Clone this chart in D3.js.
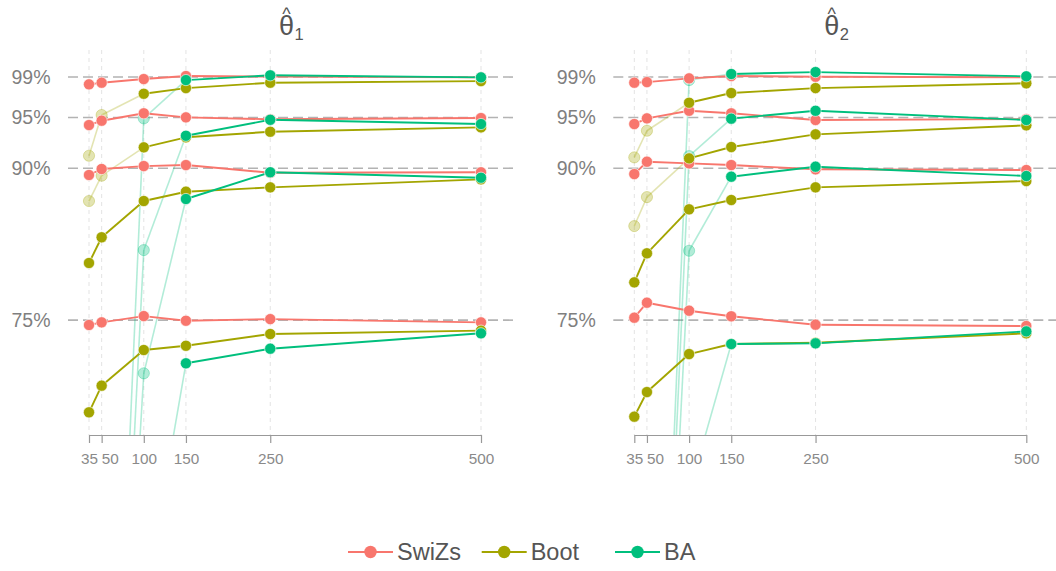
<!DOCTYPE html>
<html>
<head>
<meta charset="utf-8">
<script src="https://cdn.jsdelivr.net/npm/d3@7"></script>
<style>
  html, body { margin: 0; padding: 0; background: #fff; }
  svg { display: block; font-family: "Liberation Sans", Arial, sans-serif; }
</style>
</head>
<body>
<svg id="chart" width="1056" height="571"></svg>
<script>
// ---------------- DATA ----------------
const sampleSizes = [35, 50, 100, 150, 250, 500];
const sampleLabels = ["35", "50", "100", "150", "250", "500"];
const levels = [75, 90, 95, 99];
const levelLabels = ["75%", "90%", "95%", "99%"];
const methods = ["SwiZs", "Boot", "BA"];
const panelSubscripts = ["1", "2"];

// coverage (%) rows ordered as levels 75, 90, 95, 99; columns = sampleSizes
const theta1SwiZs = [
  [74.52, 74.78, 75.40, 74.94, 75.10, 74.78],
  [89.33, 89.92, 90.21, 90.31, 89.55, 89.60],
  [94.26, 94.69, 95.42, 95.02, 94.83, 94.95],
  [98.28, 98.44, 98.80, 99.10, 99.05, 98.97]
];
const theta1Boot = [
  [65.90, 68.53, 72.05, 72.47, 73.63, 73.96],
  [80.64, 83.18, 86.76, 87.68, 88.11, 88.90],
  [86.76, 89.26, 92.06, 93.05, 93.60, 94.03],
  [91.23, 95.25, 97.35, 97.91, 98.44, 98.60]
];
const theta1BA = [
  [0, 0, 46.7, 70.74, 72.18, 73.70],
  [0, 0, 69.75, 86.96, 89.60, 89.06],
  [0, 0, 81.92, 93.20, 94.78, 94.36],
  [0, 0, 94.92, 98.70, 99.17, 98.97]
];
const theta2SwiZs = [
  [75.24, 76.72, 75.93, 75.38, 74.55, 74.42],
  [89.42, 90.64, 90.48, 90.31, 89.89, 89.82],
  [94.36, 94.92, 95.67, 95.42, 94.76, 94.85],
  [98.44, 98.50, 98.87, 99.10, 99.03, 98.97]
];
const theta2Boot = [
  [65.47, 67.90, 71.65, 72.64, 72.77, 73.70],
  [78.73, 81.60, 85.94, 86.86, 88.11, 88.73],
  [84.29, 87.15, 90.97, 92.09, 93.34, 94.23],
  [91.07, 93.70, 96.46, 97.42, 97.91, 98.38]
];
const theta2BA = [
  [0, 0, 58.0, 72.64, 72.71, 73.89],
  [0, 0, 81.85, 89.16, 90.15, 89.23],
  [0, 0, 91.20, 94.89, 95.67, 94.76],
  [0, 0, 98.70, 99.30, 99.49, 99.07]
];
// number of leading (low-n) points drawn faded, per level
const swizsFaded = [0, 0, 0, 0];
const bootFaded = [0, 0, 2, 2];
const baFaded = [3, 3, 3, 3];

// ---------------- STYLE / LAYOUT ----------------
const colors = ["#F8766D", "#A3A500", "#00BF7D"];
const fadedBy = [swizsFaded, bootFaded, baFaded];
const panelData = [[theta1SwiZs, theta1Boot, theta1BA], [theta2SwiZs, theta2Boot, theta2BA]];
const panelLefts = [68, 613.3];
const panelW = 446, panelTop = 50, panelBottom = 435;
const fadeAlpha = 0.3;

const svg = d3.select("#chart");
const y = d3.scaleLinear().domain([63.66, 101.67]).range([panelBottom, panelTop]);

panelData.forEach((pd, pi) => {
  const L = panelLefts[pi];
  const x = d3.scaleLinear().domain([35, 500]).range([L + 21, L + 413]);
  const g = svg.append("g");

  const clipId = "clip" + pi;
  svg.append("clipPath").attr("id", clipId)
    .append("rect").attr("x", L).attr("y", panelTop).attr("width", panelW).attr("height", panelBottom - panelTop);

  // vertical grid
  g.selectAll(".vg").data(sampleSizes).enter().append("line")
    .attr("x1", d => x(d)).attr("x2", d => x(d))
    .attr("y1", panelTop).attr("y2", panelBottom)
    .attr("stroke", "#e3e3e3").attr("stroke-width", 1).attr("stroke-dasharray", "4,4");

  // nominal level reference lines
  g.selectAll(".hl").data(levels).enter().append("line")
    .attr("x1", L).attr("x2", L + panelW)
    .attr("y1", d => y(d)).attr("y2", d => y(d))
    .attr("stroke", "#b3b3b3").attr("stroke-width", 1.6).attr("stroke-dasharray", "10,5");

  // y labels
  g.selectAll(".yl").data(levels).enter().append("text")
    .attr("x", L - 17.5).attr("y", d => y(d)).attr("dy", "0.35em")
    .attr("text-anchor", "end").attr("font-size", 19.5).attr("fill", "#7f7f7f")
    .text((d, i) => levelLabels[i]);

  // x axis
  const axis = d3.axisBottom(x).tickValues(sampleSizes)
    .tickFormat((d, i) => sampleLabels[i]).tickSize(8).tickSizeOuter(0).tickPadding(10);
  const ax = g.append("g").attr("transform", `translate(0,${panelBottom})`).call(axis);
  ax.attr("font-size", 15.3).attr("font-family", "Liberation Sans, Arial, sans-serif");
  ax.select(".domain").attr("stroke", "#999").attr("stroke-width", 1.2);
  ax.selectAll(".tick line").attr("stroke", "#999").attr("stroke-width", 1.2);
  ax.selectAll(".tick text").attr("font-size", 15.3).attr("fill", "#8a8a8a")
    .attr("dx", d => d === 50 ? 8 : 0);

  // title
  const cx = L + panelW / 2;
  g.append("text").attr("x", cx - 4.5).attr("y", 35).attr("text-anchor", "middle")
    .attr("font-size", 27).attr("fill", "#555").text("θ");
  g.append("text").attr("x", cx + 3.5).attr("y", 40).attr("font-size", 16.5).attr("fill", "#555")
    .text(panelSubscripts[pi]);
  g.append("text").attr("x", cx - 4.5).attr("y", 20).attr("text-anchor", "middle")
    .attr("font-size", 18).attr("fill", "#555").text("^");

  // series
  const plot = g.append("g").attr("clip-path", `url(#${clipId})`);
  const line = d3.line().x(d => x(d.n)).y(d => y(d.v));

  const allPts = [];
  pd.forEach((rows, mi) => {
    rows.forEach((vals, li) => {
      allPts.push({ mi, pts: vals.map((v, k) => ({ n: sampleSizes[k], v, faded: k < fadedBy[mi][li] })) });
    });
  });

  // draw layers: faded segments, solid segments, faded points, solid points
  [true, false].forEach(fadedLayer => {
    allPts.forEach(({ mi, pts }) => {
      for (let k = 0; k < pts.length - 1; k++) {
        if (pts[k].faded !== fadedLayer) continue;
        plot.append("path").attr("d", line([pts[k], pts[k + 1]]))
          .attr("fill", "none").attr("stroke", colors[mi])
          .attr("stroke-width", fadedLayer ? 1.6 : 1.9)
          .attr("stroke-opacity", fadedLayer ? fadeAlpha : 1);
      }
    });
  });
  [true, false].forEach(fadedLayer => {
    allPts.forEach(({ mi, pts }) => {
      plot.selectAll(null).data(pts.filter(p => p.faded === fadedLayer)).enter().append("circle")
        .attr("cx", d => x(d.n)).attr("cy", d => y(d.v))
        .attr("r", 5.6)
        .attr("fill", colors[mi])
        .attr("fill-opacity", fadedLayer ? fadeAlpha : 1)
        .attr("stroke", fadedLayer ? colors[mi] : "#fff")
        .attr("stroke-opacity", fadedLayer ? fadeAlpha : 1)
        .attr("stroke-width", fadedLayer ? 1 : 0.6);
    });
  });
});

// legend
const legendX = [348, 481.7, 615];
const lg = svg.append("g");
methods.forEach((m, i) => {
  const lx = legendX[i], ly = 552;
  lg.append("line").attr("x1", lx).attr("x2", lx + 45).attr("y1", ly).attr("y2", ly)
    .attr("stroke", colors[i]).attr("stroke-width", 1.9);
  lg.append("circle").attr("cx", lx + 22.5).attr("cy", ly).attr("r", 6.2).attr("fill", colors[i]);
  lg.append("text").attr("x", lx + 49).attr("y", ly).attr("dy", "0.36em")
    .attr("font-size", 23.5).attr("fill", "#555").text(m);
});
</script>
</body>
</html>
